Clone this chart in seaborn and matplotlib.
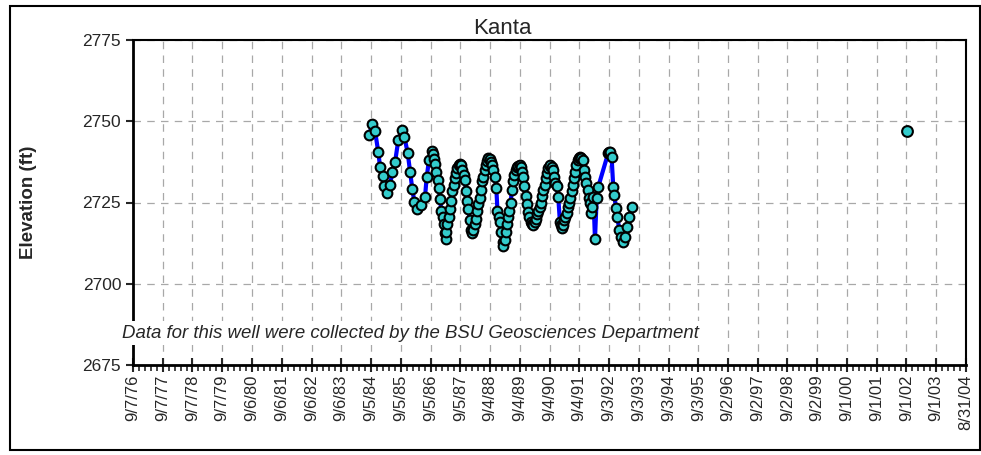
import pandas as pd
import matplotlib
matplotlib.use('Agg')
import matplotlib.pyplot as plt
import matplotlib.dates as mdates
from matplotlib.ticker import FixedLocator, FuncFormatter
from matplotlib.patches import Rectangle
import seaborn as sns

# Water level record for the Kanta well
dates = [
    '1984-08-15', '1984-09-21', '1984-10-24', '1984-12-04', '1984-12-25',
    '1985-01-27', '1985-02-12', '1985-03-24', '1985-04-26', '1985-05-25',
    '1985-06-27', '1985-08-06', '1985-09-17', '1985-10-19', '1985-11-30',
    '1985-12-28', '1986-01-25', '1986-02-19', '1986-03-27', '1986-05-08',
    '1986-06-30', '1986-07-21', '1986-08-18', '1986-09-20',
    '1986-10-01', '1986-10-15', '1986-11-01', '1986-11-15', '1986-12-01',
    '1986-12-15', '1987-01-01', '1987-01-15', '1987-02-01', '1987-02-15',
    '1987-03-01', '1987-03-10', '1987-03-20', '1987-04-01', '1987-04-15',
    '1987-05-01', '1987-05-15', '1987-06-01', '1987-06-15', '1987-07-01',
    '1987-07-15', '1987-08-01', '1987-08-15', '1987-09-01', '1987-09-15',
    '1987-10-01', '1987-10-15', '1987-11-01', '1987-11-15', '1987-12-01',
    '1987-12-15', '1988-01-01', '1988-01-15', '1988-01-25', '1988-02-10',
    '1988-03-01', '1988-03-15', '1988-04-01', '1988-04-15', '1988-05-01',
    '1988-05-15', '1988-06-01', '1988-06-15', '1988-07-01', '1988-07-15',
    '1988-08-01', '1988-08-15', '1988-09-01', '1988-09-15', '1988-10-01',
    '1988-10-15', '1988-11-01', '1988-11-20', '1988-12-05', '1988-12-20',
    '1989-01-05', '1989-01-20', '1989-02-05', '1989-02-15', '1989-03-01',
    '1989-03-15', '1989-04-01', '1989-04-15', '1989-05-01', '1989-05-15',
    '1989-06-01', '1989-06-15', '1989-07-01', '1989-07-15', '1989-08-01',
    '1989-08-15', '1989-09-01', '1989-09-15', '1989-10-01', '1989-10-15',
    '1989-11-01', '1989-11-15', '1989-12-01', '1989-12-15', '1990-01-01',
    '1990-01-15', '1990-02-01', '1990-02-18', '1990-03-05', '1990-03-20',
    '1990-04-05', '1990-04-20', '1990-05-05', '1990-05-20', '1990-06-05',
    '1990-06-20', '1990-07-05', '1990-07-20', '1990-08-05', '1990-08-20',
    '1990-09-05', '1990-09-15', '1990-10-01', '1990-10-15', '1990-11-01',
    '1990-11-15', '1990-12-01', '1990-12-20', '1991-01-10', '1991-01-20',
    '1991-02-01', '1991-02-15', '1991-03-01', '1991-03-15', '1991-04-01',
    '1991-04-15', '1991-05-01', '1991-05-15', '1991-06-01', '1991-06-15',
    '1991-07-01', '1991-07-15', '1991-08-01', '1991-08-15', '1991-09-01',
    '1991-09-15', '1991-10-01', '1991-10-20', '1991-11-05', '1991-11-15',
    '1991-12-01', '1991-12-20', '1992-01-05', '1992-01-15', '1992-01-25',
    '1992-02-10', '1992-02-25', '1992-03-15', '1992-04-05', '1992-04-25',
    '1992-08-25', '1992-09-05', '1992-09-20', '1992-10-05', '1992-10-25',
    '1992-11-07', '1992-11-28', '1992-12-14', '1993-01-08', '1993-01-29',
    '1993-02-26', '1993-03-19', '1993-04-09', '1993-05-11', '1993-06-09',
]
elevation = [
    2745.8, 2749.2, 2747.1, 2740.4, 2736.0,
    2733.2, 2730.1, 2728.0, 2730.5, 2734.3,
    2737.4, 2744.2, 2747.3, 2745.3, 2740.1,
    2734.5, 2729.1, 2725.2, 2722.9, 2724.2,
    2726.8, 2733.0, 2738.1, 2741.0,
    2740.0, 2738.5, 2737.0, 2734.5, 2732.0,
    2729.5, 2726.0, 2722.5, 2720.5, 2718.5,
    2715.5, 2713.8, 2716.0, 2718.5, 2720.5,
    2723.0, 2725.5, 2728.5, 2730.5, 2732.5,
    2734.0, 2735.5, 2736.5, 2737.0, 2736.5,
    2735.0, 2733.5, 2732.0, 2728.5, 2725.5,
    2723.0, 2719.5, 2716.5, 2715.5, 2716.5,
    2718.5, 2720.0, 2722.5, 2724.5, 2726.5,
    2729.0, 2731.5, 2733.0, 2735.0, 2736.5,
    2737.8, 2738.6, 2738.3, 2737.5, 2736.5,
    2735.0, 2733.0, 2729.5, 2722.5, 2720.5,
    2719.0, 2716.0, 2713.0, 2711.5, 2713.5,
    2716.0, 2718.5, 2720.5, 2722.5, 2725.0,
    2729.0, 2731.5, 2733.5, 2735.0, 2736.0,
    2736.3, 2736.5, 2736.0, 2734.5, 2733.0,
    2730.0, 2727.0, 2724.5, 2722.0, 2720.5,
    2719.0, 2718.5, 2718.2, 2719.0, 2720.0,
    2721.5, 2722.5, 2723.5, 2725.0, 2727.0,
    2729.0, 2730.5, 2732.5, 2734.0, 2735.5,
    2736.3, 2736.5, 2736.0, 2735.0, 2733.0,
    2731.0, 2730.0, 2726.8, 2719.0, 2718.0,
    2717.1, 2718.0, 2719.5, 2720.5, 2721.7,
    2723.5, 2725.0, 2726.5, 2728.5, 2730.5,
    2732.5, 2734.5, 2736.5, 2738.0, 2738.8,
    2739.1, 2738.8, 2738.0, 2735.0, 2733.0,
    2731.0, 2729.0, 2726.5, 2724.8, 2721.7,
    2723.7, 2726.8, 2713.7, 2726.5, 2729.9,
    2740.3, 2740.6, 2740.4, 2739.0, 2729.9,
    2727.3, 2723.2, 2720.6, 2716.5, 2714.5,
    2712.9, 2714.5, 2717.5, 2720.6, 2723.7,
]

# single later reading, not joined to the main record
late_dates = ['2002-09-02']
late_elevation = [2747.0]

df = pd.DataFrame({'Date': pd.to_datetime(dates), 'Elevation': elevation})
late = pd.DataFrame({'Date': pd.to_datetime(late_dates), 'Elevation': late_elevation})

sns.set_style('white')
plt.rcParams['font.family'] = ['Liberation Sans', 'DejaVu Sans']

fig = plt.figure(figsize=(9.81, 4.55), dpi=100)
ax = fig.add_axes([133 / 981, 1 - 365 / 455, (966 - 133) / 981, (365 - 40) / 455])

marker_kw = dict(marker='o', markersize=7, markerfacecolor='#33CCCC',
                 markeredgecolor='black', markeredgewidth=1.5)
sns.lineplot(data=df, x='Date', y='Elevation', ax=ax, color='#0000FF',
             linewidth=3, sort=False, estimator=None, zorder=3, **marker_kw)
sns.scatterplot(data=late, x='Date', y='Elevation', ax=ax, s=60,
                color='#33CCCC', edgecolor='black', linewidth=1.5, zorder=4)

# axis ticks: one year (365 days) apart as in the original
major = pd.date_range('1976-09-07', periods=29, freq='365D')
minor = pd.date_range('1976-09-07', '2004-08-31', freq='73D')
ax.set_xlim(mdates.date2num(major[0]), mdates.date2num(major[-1]))
ax.xaxis.set_major_locator(FixedLocator(mdates.date2num(major)))
ax.xaxis.set_minor_locator(FixedLocator(mdates.date2num(minor)))
ax.xaxis.set_major_formatter(FuncFormatter(
    lambda v, p: (lambda d: f"{d.month}/{d.day}/{d:%y}")(mdates.num2date(v))))

ax.set_ylim(2675, 2775)
ax.set_yticks([2675, 2700, 2725, 2750, 2775])

ax.tick_params(axis='x', which='major', direction='inout', length=10, width=1.5,
               labelsize=12, labelrotation=90, pad=2, bottom=True)
ax.tick_params(axis='x', which='minor', direction='out', length=4, width=1.2, bottom=True)
ax.tick_params(axis='y', which='major', direction='out', length=5, width=1.5,
               labelsize=12.5, left=True)

ax.grid(True, which='major', color='#A8A8A8', linestyle=(0, (6, 5)), linewidth=0.9)
ax.set_axisbelow(True)
for s in ax.spines.values():
    s.set_color('black')
    s.set_linewidth(1.5)
ax.spines['left'].set_linewidth(2)
ax.spines['bottom'].set_linewidth(2)

ax.set_xlabel('')
ax.set_ylabel('Elevation (ft)', fontsize=13.5, fontweight='bold')
ax.yaxis.set_label_coords((37 - 133) / 833, 0.5)

fig.text(502 / 981, 1 - 28 / 455, 'Kanta', ha='center', va='center', fontsize=16)
fig.text(122 / 981, 1 - 333 / 455,
         'Data for this well were collected by the BSU Geosciences Department',
         ha='left', va='center', fontsize=13.4, style='italic', zorder=5,
         bbox=dict(facecolor='white', edgecolor='none', pad=2.5))

# outer chart border
fig.patches.append(Rectangle((10 / 981, 1 - 450 / 455), 970 / 981, 444 / 455,
                             transform=fig.transFigure, fill=False,
                             edgecolor='black', linewidth=1.5))

fig.savefig('out.png', dpi=100)
